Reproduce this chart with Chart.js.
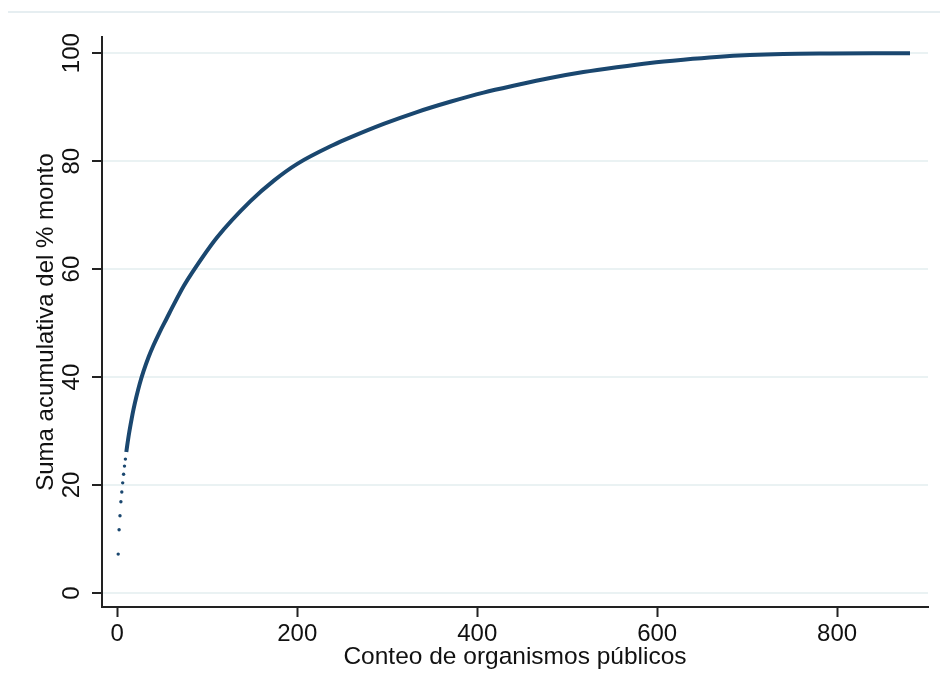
<!DOCTYPE html>
<html>
<head>
<meta charset="utf-8">
<script src="https://cdn.jsdelivr.net/npm/chart.js@4.4.1/dist/chart.umd.min.js"></script>
<style>
  html, body { margin: 0; padding: 0; background: #fff; }
  #wrap { width: 940px; height: 696px; position: relative; }
</style>
</head>
<body>
<div id="wrap"><canvas id="curva" width="940" height="696"></canvas></div>
<script>
// primeros organismos: puntos sueltos
const primerosOrg = [1, 2, 3, 4, 5, 6, 7, 8, 9];
const primerosPct = [7.2, 11.7, 14.3, 16.9, 18.7, 20.4, 22.0, 23.5, 24.8];

// resto de la curva acumulada
const curvaOrg = [10, 11, 13, 16, 18, 21, 25, 29, 35, 40, 47, 55, 63, 74, 83, 111, 148, 174, 200,
                  240, 259, 296, 333, 370, 407, 444, 481, 518, 555, 592, 629, 666, 703, 740, 790, 840, 881];
const curvaPct = [26.1, 27.3, 29.5, 32.3, 34.0, 36.2, 38.8, 41.0, 43.8, 45.8, 48.3, 50.9, 53.5, 56.9, 59.3, 65.9, 72.6, 76.4, 79.5,
                  83.0, 84.4, 86.9, 89.1, 91.0, 92.7, 94.1, 95.4, 96.5, 97.4, 98.2, 98.8, 99.3, 99.65, 99.85, 99.95, 100, 100];

const xTicks = [0, 200, 400, 600, 800];
const yTicks = [0, 20, 40, 60, 80, 100];

const azul = '#1a476f';
const fuente = { family: 'Arial, "Liberation Sans", sans-serif', size: 24 };

const toXY = (xs, ys) => xs.map((x, i) => ({ x: x, y: ys[i] }));

// linea tenue arriba del grafico
const marco = {
    id: 'marco',
    beforeDraw(chart) {
        const ctx = chart.ctx;
        ctx.save();
        ctx.strokeStyle = '#e6eef1';
        ctx.lineWidth = 2;
        ctx.beginPath();
        ctx.moveTo(8, 12);
        ctx.lineTo(940, 12);
        ctx.stroke();
        ctx.restore();
    }
};

const ctx = document.getElementById('curva').getContext('2d');
const grafico = new Chart(ctx, {
    type: 'scatter',
    data: {
        datasets: [{
            data: toXY(primerosOrg, primerosPct),
            backgroundColor: azul,
            borderColor: azul,
            pointRadius: 1.7,
            pointBorderWidth: 0,
            showLine: false
        }, {
            data: toXY(curvaOrg, curvaPct),
            borderColor: azul,
            backgroundColor: azul,
            borderWidth: 4,
            pointRadius: 0,
            showLine: true,
            cubicInterpolationMode: 'monotone'
        }]
    },
    plugins: [marco],
    options: {
        responsive: false,
        animation: false,
        layout: { padding: { left: 0, top: 37, right: 12, bottom: 0 } },
        plugins: {
            legend: { display: false },
            tooltip: { enabled: false }
        },
        scales: {
            x: {
                type: 'linear',
                min: -17,
                max: 901,
                afterBuildTicks: (s) => { s.ticks = xTicks.map(v => ({ value: v })); },
                afterFit: (s) => { s.height = 89; },
                grid: { drawOnChartArea: false, tickLength: 10, tickColor: '#222', tickWidth: 2 },
                border: { color: '#222', width: 2 },
                ticks: { font: fuente, color: '#111', padding: 3, maxRotation: 0, autoSkip: false },
                title: {
                    display: true,
                    text: 'Conteo de organismos públicos',
                    font: { family: fuente.family, size: 24.5 },
                    color: '#111',
                    padding: { top: 0, bottom: 24 }
                }
            },
            y: {
                type: 'linear',
                min: -2.6,
                max: 103,
                afterBuildTicks: (s) => { s.ticks = yTicks.map(v => ({ value: v })); },
                afterFit: (s) => { s.width = 102; },
                grid: { color: '#eaf2f3', lineWidth: 2, tickLength: 10, tickColor: '#222', tickWidth: 2 },
                border: { color: '#222', width: 2 },
                ticks: {
                    font: fuente, color: '#111', padding: 0,
                    minRotation: 90, maxRotation: 90,
                    crossAlign: 'center', autoSkip: false
                },
                title: {
                    display: true,
                    text: 'Suma acumulativa del % monto',
                    font: fuente,
                    color: '#111',
                    padding: { top: 32, bottom: 0 }
                }
            }
        }
    }
});
</script>
</body>
</html>
